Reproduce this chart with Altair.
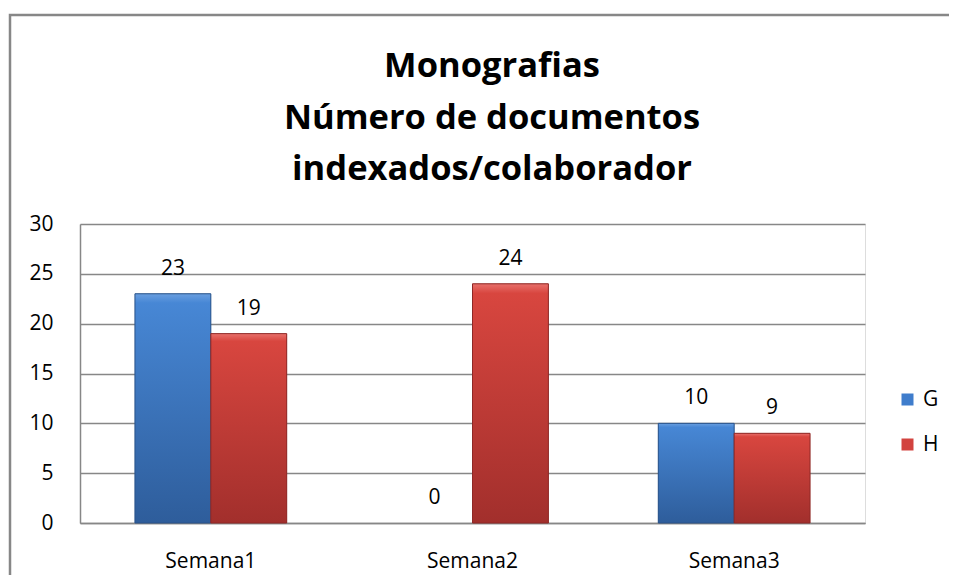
import altair as alt
import pandas as pd

categories = ["Semana1", "Semana2", "Semana3"]
series = ["G", "H"]
g_values = [23, 0, 10]
h_values = [19, 24, 9]
y_ticks = [0, 5, 10, 15, 20, 25, 30]
title_lines = ["Monografias", "Número de documentos", "indexados/colaborador"]

solid_colors = ["#3f7dcc", "#d2433f"]
grad_blue = {"gradient": "linear", "x1": 0, "y1": 0, "x2": 0, "y2": 1,
             "stops": [{"offset": 0, "color": "#6a9fe0"}, {"offset": 0.04, "color": "#4787d5"},
                       {"offset": 1, "color": "#2e5d9b"}]}
grad_red = {"gradient": "linear", "x1": 0, "y1": 0, "x2": 0, "y2": 1,
            "stops": [{"offset": 0, "color": "#e8706b"}, {"offset": 0.04, "color": "#d8463f"},
                      {"offset": 1, "color": "#a22f2c"}]}

rows = []
for c, g, h in zip(categories, g_values, h_values):
    rows.append({"semana": c, "serie": "G", "valor": g})
    rows.append({"semana": c, "serie": "H", "valor": h})
df = pd.DataFrame(rows)

FONT = "Open Sans"
GRID = "#878787"

x = alt.X("semana:N", sort=categories, title=None,
          scale=alt.Scale(paddingInner=0.42, paddingOuter=0.21),
          axis=alt.Axis(labelAngle=0, ticks=False, grid=False, domainColor=GRID, domainWidth=1.5,
                        labelPadding=27, labelFontSize=21, labelColor="#000000", labelFont=FONT))
xo = alt.XOffset("serie:N", sort=series, scale=alt.Scale(paddingInner=0, paddingOuter=0))
y = alt.Y("valor:Q", title=None, scale=alt.Scale(domain=[0, 30], nice=False),
          axis=alt.Axis(values=y_ticks, ticks=False, grid=True, gridColor=GRID, gridWidth=1.5,
                        domainColor=GRID, domainWidth=1.5, labelPadding=27, labelFontSize=21,
                        labelColor="#000000", labelFont=FONT))

base = alt.Chart(df)

bars = base.transform_filter(alt.datum.valor > 0).mark_bar().encode(
    x=x, xOffset=xo, y=y,
    color=alt.Color("serie:N", sort=series, scale=alt.Scale(domain=series, range=solid_colors),
                    legend=alt.Legend(title=None, orient="none", legendX=817, legendY=165,
                                      symbolType="square", symbolSize=144, labelFontSize=21,
                                      labelFont=FONT, labelColor="#000000", rowPadding=23,
                                      labelOffset=5, padding=0, symbolStrokeWidth=0)),
)

g_bars = base.transform_filter((alt.datum.serie == "G") & (alt.datum.valor > 0)).mark_bar(
    fill=grad_blue, stroke="#2a5288", strokeWidth=1).encode(x=x, xOffset=xo, y=y)
h_bars = base.transform_filter((alt.datum.serie == "H") & (alt.datum.valor > 0)).mark_bar(
    fill=grad_red, stroke="#8e2826", strokeWidth=1).encode(x=x, xOffset=xo, y=y)

labels = base.mark_text(baseline="middle", dy=-25, fontSize=21, font=FONT, color="#000000").encode(
    x=x, xOffset=xo, y=y, text=alt.Text("valor:Q"))

border = alt.Chart(pd.DataFrame({"b": [0]})).mark_rect(
    fill=None, stroke="#878787", strokeWidth=2.5).encode(
    x=alt.value(-70), y=alt.value(-209), x2=alt.value(1000), y2=alt.value(600))

title = alt.Chart(pd.DataFrame({"b": [0]})).mark_text(
    fontSize=34.5, fontWeight="bold", font=FONT, color="#000000", align="center",
    baseline="alphabetic", lineHeight=51.5).encode(
    x=alt.value(412), y=alt.value(-147), text=alt.value(title_lines))

chart = alt.layer(border, title, bars, g_bars, h_bars, labels).properties(
    width=785, height=299,
    autosize=alt.AutoSizeParams(type="none"),
    padding={"left": 72, "top": 216, "right": 84, "bottom": 52},
).configure_view(stroke=None).configure(background="white")

chart.save("out.html", embed_options={"renderer": "svg", "actions": False})
